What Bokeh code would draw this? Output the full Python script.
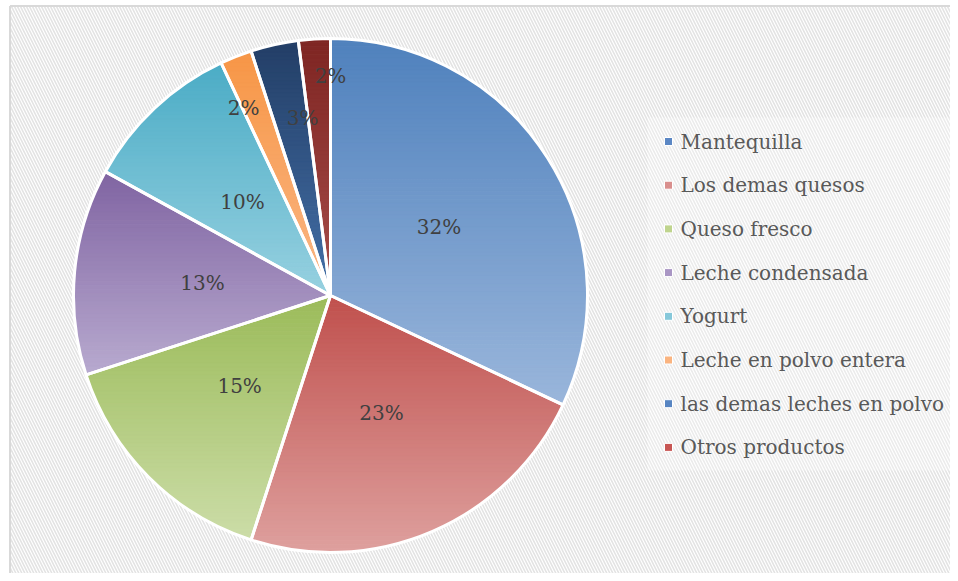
import numpy as np
from bokeh.plotting import figure
from bokeh.models import Range1d
from bokeh.core.properties import value
from bokeh.embed import file_html
from bokeh.resources import INLINE

# ---- data ----
categories = ["Mantequilla", "Los demas quesos", "Queso fresco", "Leche condensada",
              "Yogurt", "Leche en polvo entera", "las demas leches en polvo", "Otros productos"]
percents = [32, 23, 15, 13, 10, 2, 3, 2]
labels = [f"{v}%" for v in percents]

# ---- style ----
top_colors = ["#4F81BD", "#C0504D", "#9BBB59", "#8064A2", "#4BACC6", "#F79646", "#233E66", "#7E2522"]
bot_colors = ["#9AB6DB", "#DEA09E", "#CCDDA8", "#B8AACF", "#97D1E0", "#FAB786", "#4470A8", "#A84E4B"]
legend_colors = ["#5B87C4", "#D98F8D", "#BFD48E", "#A996C4", "#86C8DA", "#FAB480", "#5785C2", "#C75653"]
label_r = [0.5, 0.5, 0.5, 0.5, 0.5, 0.805, 0.70, 0.856]
label_da = [0, 0, 0, 0, 0, 3.2, -3.7, -3.6]  # degrees

W, H = 950, 573
cx, cy, R = 330, 278, 257

p = figure(width=W, height=H, output_backend="svg", toolbar_location=None,
           x_range=Range1d(0, W), y_range=Range1d(0, H),
           x_axis_type=None, y_axis_type=None, min_border=0)
p.grid.visible = False
p.outline_line_color = None
p.background_fill_color = "white"
p.border_fill_color = "white"

# hatched chart area with left / top border
p.quad(left=[9], right=[W], bottom=[0], top=[H - 5], fill_color="white", line_alpha=0,
       hatch_pattern="\\", hatch_color="#E3E3E3", hatch_scale=6, hatch_weight=1.6)
p.segment(x0=[9.5, 9.5], y0=[0, H - 5.5], x1=[9.5, W], y1=[H - 5.5, H - 5.5],
          line_color="#D9D9D9", line_width=2)


def hex2rgb(h):
    h = h.lstrip("#")
    return np.array([int(h[i:i + 2], 16) for i in (0, 2, 4)], dtype=float)


def rgb2hex(c):
    return "#%02x%02x%02x" % tuple(int(round(v)) for v in c)


def clip(poly, yv, keep_above):
    out = []
    n = len(poly)
    for i in range(n):
        a = poly[i]
        b = poly[(i + 1) % n]
        ina = a[1] >= yv if keep_above else a[1] <= yv
        inb = b[1] >= yv if keep_above else b[1] <= yv
        if ina:
            out.append(a)
        if ina != inb:
            t = (yv - a[1]) / (b[1] - a[1])
            out.append((a[0] + t * (b[0] - a[0]), yv))
    return out


total = float(sum(percents))
cum = np.concatenate([[0], np.cumsum(percents)]) / total
a_start = np.pi / 2 - cum[:-1] * 2 * np.pi   # clockwise from top
a_end = np.pi / 2 - cum[1:] * 2 * np.pi

bx, by, bc = [], [], []
for i in range(len(percents)):
    th = np.linspace(a_start[i], a_end[i], 120)
    poly = [(cx, cy)] + [(cx + R * np.cos(t), cy + R * np.sin(t)) for t in th]
    ys = [q[1] for q in poly]
    ymin, ymax = min(ys), max(ys)
    nb = max(6, int((ymax - ymin) / 4))
    c0, c1 = hex2rgb(top_colors[i]), hex2rgb(bot_colors[i])
    for k in range(nb):
        yhi = ymax - (ymax - ymin) * k / nb
        ylo = ymax - (ymax - ymin) * (k + 1) / nb
        pp = clip(clip(poly, ylo - 0.3, True), yhi + 0.3, False)
        if len(pp) < 3:
            continue
        f = (k + 0.5) / nb
        col = rgb2hex(c0 + (c1 - c0) * f)
        bx.append([q[0] for q in pp])
        by.append([q[1] for q in pp])
        bc.append(col)

p.patches(bx, by, fill_color=bc, line_color=bc, line_width=0.6)

# white separators / outline
p.wedge(x=[cx] * len(percents), y=[cy] * len(percents), radius=R,
        start_angle=list(a_end), end_angle=list(a_start), direction="anticlock",
        fill_alpha=0, line_color="white", line_width=3)

# percentage labels
mid = (a_start + a_end) / 2 + np.radians(label_da)
lx = [cx + R * f * np.cos(m) for f, m in zip(label_r, mid)]
ly = [cy + R * f * np.sin(m) for f, m in zip(label_r, mid)]
p.text(x=lx, y=ly, text=labels, text_font=value("DejaVu Serif"), text_font_size="20px",
       text_color="#404040", text_align="center", text_baseline="middle")

# legend
p.quad(left=[647], right=[W], bottom=[H - 470], top=[H - 117],
       fill_color="white", fill_alpha=0.3, line_alpha=0)
ly0, step = H - 141, 43.7
leg_y = [ly0 - step * i for i in range(len(categories))]
p.scatter(x=[668] * len(categories), y=leg_y, marker="square", size=8,
          fill_color=legend_colors, line_color="white", line_width=1)
p.text(x=[680] * len(categories), y=leg_y, text=categories, text_font=value("DejaVu Serif"),
       text_font_size="20px", text_color="#595959", text_align="left", text_baseline="middle")

open("out.html", "w").write(file_html(p, INLINE))
